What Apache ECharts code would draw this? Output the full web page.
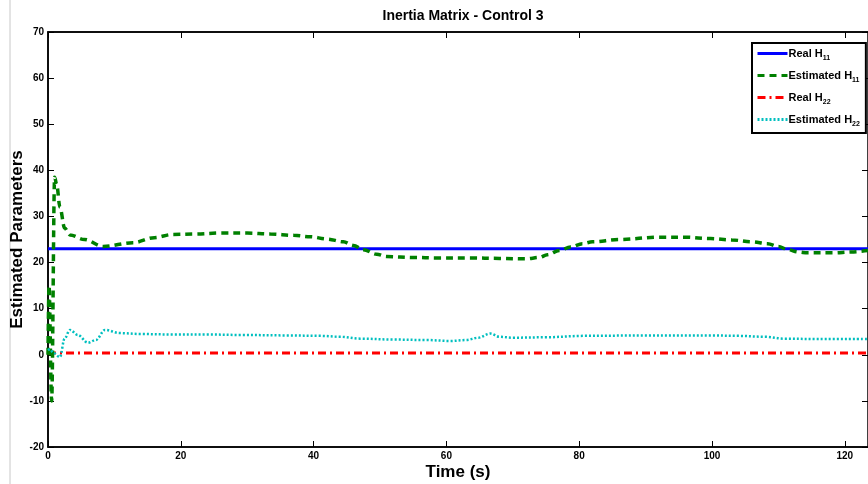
<!DOCTYPE html>
<html>
<head>
<meta charset="utf-8">
<script src="https://cdn.jsdelivr.net/npm/echarts@6/dist/echarts.min.js"></script>
<style>
  html, body { margin: 0; padding: 0; background: #fff; }
  #chart { width: 868px; height: 484px; }
</style>
</head>
<body>
<div id="chart"></div>
<script>
// values
var xTicks = [0, 20, 40, 60, 80, 100, 120];
var yTicks = [-20, -10, 0, 10, 20, 30, 40, 50, 60, 70];
var tEnd = 123.5;

var realH11 = 23.0;
var realH22 = 0.4;

var estH11Time = [0, 0.15, 0.55, 1.0, 1.3, 1.8, 2.5, 3.3, 5.5, 8.3, 12.8, 16, 18.8, 22, 26, 30, 33.5, 37, 39.5, 42, 44.5, 46, 47.5, 49.5, 51, 55, 58.6, 63.6, 68, 72, 74, 75.2, 77, 78.7, 80.5, 82, 86, 92, 96, 99.8, 103, 106, 108.4, 110, 111.4, 113, 114.4, 118.3, 121, 123.5];
var estH11 = [0, 15, -10, 38.5, 37, 32, 27.5, 26, 25, 23.5, 24.3, 25.4, 26.1, 26.2, 26.4, 26.4, 26.2, 25.9, 25.6, 25.1, 24.5, 23.7, 22.8, 21.8, 21.3, 21.1, 21.0, 21.0, 20.9, 20.8, 21.1, 21.7, 22.6, 23.4, 24.1, 24.5, 25.0, 25.5, 25.5, 25.2, 24.9, 24.5, 24.1, 23.5, 22.8, 22.3, 22.1, 22.1, 22.3, 22.6];

var estH22Time = [0, 0.3, 0.8, 1.8, 2.5, 3.3, 4.5, 6, 7.2, 8.6, 10.8, 14, 18.8, 24, 29, 36, 41, 44, 47, 52, 57, 60.6, 63, 64.8, 66.6, 68, 70, 75, 80.6, 90, 100, 104, 108, 110.8, 116, 123.5];
var estH22 = [1.0, 1.2, 0.4, -0.5, 3.5, 5.4, 4.3, 2.6, 3.2, 5.4, 4.7, 4.5, 4.4, 4.4, 4.3, 4.2, 4.1, 3.9, 3.5, 3.3, 3.2, 3.0, 3.2, 3.7, 4.6, 3.9, 3.7, 3.8, 4.1, 4.2, 4.2, 4.1, 3.9, 3.5, 3.4, 3.4];

function pairs(ts, vs) {
  var out = [];
  for (var i = 0; i < ts.length; i++) out.push([ts[i], vs[i]]);
  return out;
}

var myChart = echarts.init(document.getElementById("chart"));
var fontFam = "'Liberation Sans', Arial, sans-serif";

function legendLabel(name) {
  // "Real H11" -> Real H{s|11}
  var m = name.match(/^(.*H)(\d\d)$/);
  return "{b|" + m[1] + "}{s|" + m[2] + "}";
}

var option = {
  animation: false,
  backgroundColor: "#fff",
  textStyle: { fontFamily: fontFam },
  title: {
    text: "Inertia Matrix - Control 3",
    left: 458,
    textAlign: "center",
    top: 4,
    textStyle: { fontSize: 14, fontWeight: "bold", color: "#000", fontFamily: fontFam }
  },
  grid: {
    left: 48, top: 32, right: 0, bottom: 37,
    outerBoundsMode: "none",
    containLabel: false,
    show: true, borderColor: "#000", borderWidth: 1.5
  },
  legend: {
    orient: "vertical",
    left: 752,
    top: 43,
    padding: [5, 6, 5, 4],
    itemGap: 8,
    itemWidth: 30,
    itemHeight: 12,
    backgroundColor: "#fff",
    borderColor: "#000",
    borderWidth: 2,
    borderRadius: 0,
    itemStyle: { opacity: 0 },
    lineStyle: { width: 3 },
    formatter: legendLabel,
    textStyle: {
      color: "#000",
      padding: [0, 0, 0, -4],
      rich: {
        b: { fontSize: 11, fontWeight: "bold", fontFamily: fontFam, color: "#000" },
        s: { fontSize: 7, fontWeight: "bold", fontFamily: fontFam, color: "#000", padding: [10, 0, 0, 0] }
      }
    },
    data: ["Real H11", "Estimated H11", "Real H22", "Estimated H22"]
  },
  xAxis: [{
    type: "value",
    min: 0,
    max: tEnd,
    interval: 20,
    name: "Time (s)",
    nameLocation: "middle",
    nameGap: 17,
    nameMoveOverlap: false,
    nameTextStyle: { fontSize: 17, fontWeight: "bold", color: "#000", fontFamily: fontFam },
    axisLine: { show: true, onZero: false, lineStyle: { color: "#000", width: 1.5 } },
    axisTick: { show: true, inside: true, length: 6, lineStyle: { color: "#000" } },
    axisLabel: {
      fontSize: 10, fontWeight: "bold", color: "#000", margin: 4,
      showMaxLabel: false,
      formatter: function (v) { return xTicks.indexOf(v) >= 0 ? v : ""; }
    },
    splitLine: { show: false }
  }, {
    type: "value",
    position: "top",
    min: 0,
    max: tEnd,
    interval: 20,
    axisLine: { show: true, onZero: false, lineStyle: { color: "#000", width: 1.5 } },
    axisTick: { show: true, inside: true, length: 6, lineStyle: { color: "#000" } },
    axisLabel: { show: false },
    splitLine: { show: false }
  }],
  yAxis: [{
    type: "value",
    min: -20,
    max: 70,
    interval: 10,
    name: "Estimated Parameters",
    nameLocation: "middle",
    nameGap: 22,
    nameMoveOverlap: false,
    nameTextStyle: { fontSize: 17, fontWeight: "bold", color: "#000", fontFamily: fontFam },
    axisLine: { show: true, onZero: false, lineStyle: { color: "#000", width: 1.5 } },
    axisTick: { show: true, inside: true, length: 6, lineStyle: { color: "#000" } },
    axisLabel: {
      fontSize: 10, fontWeight: "bold", color: "#000", margin: 4,
      formatter: function (v) { return yTicks.indexOf(v) >= 0 ? v : ""; }
    },
    splitLine: { show: false }
  }, {
    type: "value",
    position: "right",
    min: -20,
    max: 70,
    interval: 10,
    axisLine: { show: false, onZero: false },
    axisTick: { show: true, inside: true, length: 6, lineStyle: { color: "#000" } },
    axisLabel: { show: false },
    splitLine: { show: false }
  }],
  series: [{
    name: "Real H11",
    type: "line",
    symbol: "none",
    data: [[0, realH11], [tEnd, realH11]],
    lineStyle: { color: "#0000ff", width: 3, type: "solid" },
    itemStyle: { color: "#0000ff" },
    z: 3
  }, {
    name: "Estimated H11",
    type: "line",
    symbol: "none",
    smooth: 0.35,
    smoothMonotone: "x",
    data: pairs(estH11Time, estH11),
    lineStyle: { color: "#008000", width: 3.5, type: [7, 5] },
    itemStyle: { color: "#008000" },
    z: 4
  }, {
    name: "Real H22",
    type: "line",
    symbol: "none",
    data: [[0, realH22], [tEnd, realH22]],
    lineStyle: { color: "#ff0000", width: 3, type: [8, 4, 2, 4] },
    itemStyle: { color: "#ff0000" },
    z: 3
  }, {
    name: "Estimated H22",
    type: "line",
    symbol: "none",
    smooth: 0.35,
    smoothMonotone: "x",
    data: pairs(estH22Time, estH22),
    lineStyle: { color: "#00bfbf", width: 2.5, type: [2, 2] },
    itemStyle: { color: "#00bfbf" },
    z: 4
  }],
  graphic: [{
    type: "line",
    shape: { x1: 10, y1: 0, x2: 10, y2: 484 },
    style: { stroke: "#c8c8c8", lineWidth: 1 }
  }]
};

if (option && typeof option === "object") myChart.setOption(option);
window.addEventListener("resize", function () {
  myChart.resize();
});
</script>
</body>
</html>
